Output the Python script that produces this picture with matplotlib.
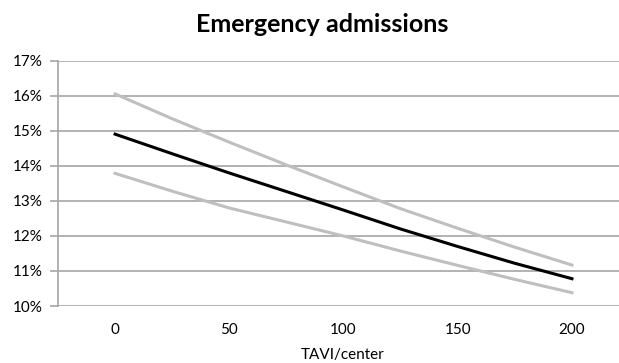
import numpy as np
import matplotlib
matplotlib.use('Agg')
import matplotlib.pyplot as plt
from matplotlib.ticker import PercentFormatter

plt.rcParams['font.family'] = ['Lato', 'DejaVu Sans']

# TAVI per center and fitted emergency admission rate (%) with bounds
tavi = [0, 25, 50, 75, 100, 125, 150, 175, 200]
estimate = [14.91, 14.35, 13.80, 13.27, 12.74, 12.20, 11.70, 11.22, 10.78]
upper = [16.06, 15.35, 14.68, 14.03, 13.40, 12.78, 12.22, 11.68, 11.17]
lower = [13.79, 13.28, 12.80, 12.40, 12.00, 11.57, 11.16, 10.76, 10.38]
x_ticks = [0, 50, 100, 150, 200]
y_ticks = [10, 11, 12, 13, 14, 15, 16, 17]

fig = plt.figure(figsize=(6.19, 3.63), dpi=100)
ax = fig.add_axes([58 / 619, 1 - 306 / 363, 1 - 58 / 619, 245 / 363])

grid_col = '#a6a6a6'
for yv in y_ticks:
    ax.axhline(yv, color=grid_col, lw=1.2, zorder=1)

ax.plot(tavi, upper, color='#bfbfbf', lw=2.2, zorder=2)
ax.plot(tavi, lower, color='#bfbfbf', lw=2.2, zorder=2)
ax.plot(tavi, estimate, color='black', lw=2.2, zorder=3)

ax.set_xlim(-25, 220.6)
ax.set_ylim(10, 17)
ax.set_xticks(x_ticks)
ax.set_yticks(y_ticks)
ax.yaxis.set_major_formatter(PercentFormatter(decimals=0))

for s in ['top', 'right', 'bottom']:
    ax.spines[s].set_visible(False)
ax.spines['left'].set_color(grid_col)
ax.spines['left'].set_linewidth(1.2)
ax.tick_params(axis='y', length=6, color=grid_col, width=1.2, labelsize=11, pad=5)
ax.tick_params(axis='x', length=0, labelsize=11, pad=12)

# axis title sits under the middle tick, close to the bottom edge
fig.text(343 / 619, 1 - 355 / 363, 'TAVI/center', ha='center', va='center', fontsize=11)
fig.text(322 / 619, 1 - 25 / 363, 'Emergency admissions', ha='center', va='center',
         fontsize=18, fontweight='bold')

fig.savefig('out.png', dpi=100)
